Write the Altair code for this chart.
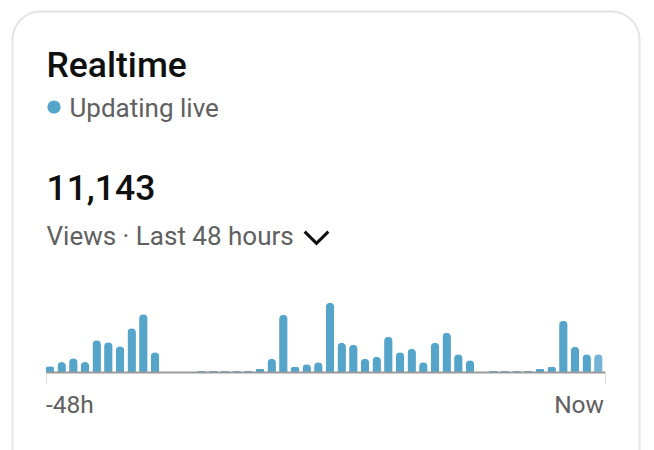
import altair as alt
import pandas as pd

# bar values (arbitrary units), 48 hourly bars
hours = list(range(48))
views = [5.7, 10, 13.7, 10, 31.7, 29.7, 25.7, 43.7, 57.7, 19.7,
         0, 0, 0, 1.2, 1.2, 1.2, 1.2, 1.2, 3.3, 13.3,
         57.3, 5.3, 7.7, 9.7, 69.3, 29.3, 27.3, 13.3, 15.3, 35.3,
         19.7, 23.3, 9.7, 29.3, 39.3, 17.7, 11.7, 0, 1.2, 1.2,
         1.2, 1.2, 3.3, 5.3, 51.3, 25.3, 17.7, 17.7]
partial = [False] * 47 + [True]

title_text = ["Realtime"]
status_text = ["Updating live"]
total_text = ["11,143"]
sub_text = ["Views · Last 48 hours"]
axis_labels = ["-48h", "Now"]

FONT = "Roboto"
BLUE = "#55a4c9"
GREY = "#606060"

bars_df = pd.DataFrame({"hour": hours, "views": views, "partial": partial})
one = pd.DataFrame({"k": [0]})

card = alt.Chart(one).mark_rect(
    fill="white", stroke="#e4e4e4", strokeWidth=2, cornerRadius=28
).encode(x=alt.value(4.5), x2=alt.value(631.5), y=alt.value(3.5), y2=alt.value(500))

bars = alt.Chart(bars_df).mark_bar(
    cornerRadiusTopLeft=4.25, cornerRadiusTopRight=4.25
).encode(
    x=alt.X("hour:O", axis=None,
            scale=alt.Scale(range=[37.75, 594.6], paddingInner=0.27, paddingOuter=0)),
    y=alt.Y("views:Q", axis=None, scale=alt.Scale(domain=[0, 70], range=[364, 294])),
    color=alt.Color("partial:N", legend=None,
                    scale=alt.Scale(domain=[False, True], range=[BLUE, "#74b5d5"])),
)

baseline = alt.Chart(one).mark_rule(color="#9a9a9a", strokeWidth=2).encode(
    x=alt.value(38), x2=alt.value(597.5), y=alt.value(364.5))
tick_l = alt.Chart(one).mark_rule(color="#dddddd", strokeWidth=1).encode(
    x=alt.value(38.5), y=alt.value(365), y2=alt.value(376))
tick_r = alt.Chart(one).mark_rule(color="#dddddd", strokeWidth=1).encode(
    x=alt.value(597.5), y=alt.value(365), y2=alt.value(376))

def txt(text, x, y, size, color, weight="normal", align="left"):
    return alt.Chart(pd.DataFrame({"t": text})).mark_text(
        font=FONT, fontSize=size, color=color, fontWeight=weight,
        align=align, baseline="alphabetic"
    ).encode(text="t:N", x=alt.value(x), y=alt.value(y))

title = txt(title_text, 38.5, 69, 35.5, "#0f0f0f", 500)
dot = alt.Chart(one).mark_point(filled=True, color=BLUE, opacity=1, size=175).encode(
    x=alt.value(46), y=alt.value(99))
status = txt(status_text, 61.5, 109, 26, GREY)
total = txt(total_text, 38.5, 192, 35.5, "#0f0f0f", 500)
sub = txt(sub_text, 38.5, 237, 26, GREY)
chevron = alt.Chart(one).mark_point(
    shape="M-1,-0.5L0,0.5L1,-0.5", filled=False, color="#0f0f0f",
    strokeWidth=3, size=560, opacity=1
).encode(x=alt.value(308.5), y=alt.value(229.5))
lab_l = txt([axis_labels[0]], 38, 405, 24.5, GREY)
lab_r = txt([axis_labels[1]], 596, 405, 24.5, GREY, align="right")

chart = alt.layer(
    card, bars, baseline, tick_l, tick_r, title, dot, status, total, sub, chevron, lab_l, lab_r
).properties(
    width=638, height=442, padding=0, autosize=alt.AutoSizeParams(type="none"),
    background="white"
).configure_view(stroke=None)

chart.save("out.html", embed_options={"renderer": "svg", "actions": False})
